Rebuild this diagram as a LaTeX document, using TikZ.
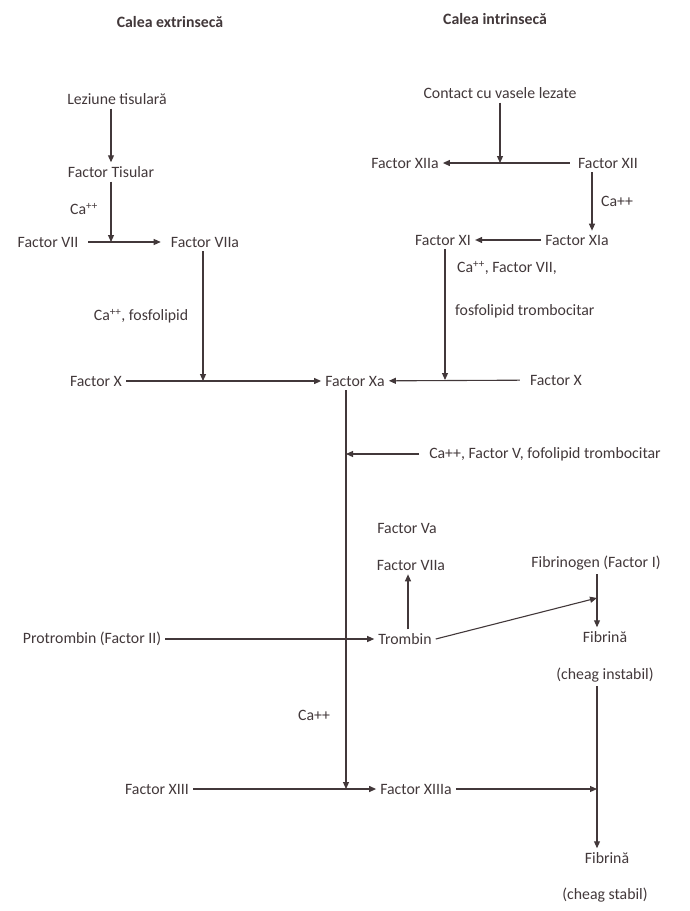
\documentclass[tikz,border=0pt]{standalone}
\usepackage{fontspec}
\setmainfont{Carlito}
\usepackage{tikz}
\usetikzlibrary{arrows.meta,positioning}
\definecolor{ink}{RGB}{66,56,58}
\tikzset{factor/.style={inner sep=4pt,text=ink,font=\fontsize{15.8}{18}\selectfont},
         title/.style={factor,font=\fontsize{15.8}{18}\selectfont\bfseries},
         cofactor/.style={factor,inner sep=2pt},
         flow/.style={->,draw=ink,line width=1.1pt}}
\newcommand{\ca}{Ca\textsuperscript{++}}

\begin{document}
\begin{tikzpicture}[x=1pt,y=-1pt,>={Triangle[length=7pt,width=6pt]}]
    \useasboundingbox (0,0) rectangle (690,911);

    \node[title] (ext) at (170,22) {Calea extrinsecă};
    \node[title] (int) at (495,19) {Calea intrinsecă};

    % calea extrinseca
    \node[factor] (lez) at (117,99) {Leziune tisulară};
    \node[factor] (ft)  at (111,172) {Factor Tisular};
    \node[factor] (f7)  at (48,242) {Factor VII};
    \node[factor] (f7a) at (205,242) {Factor VIIa};
    \node[factor] (fxl) at (96,381) {Factor X};
    \node[cofactor] at (84,209) {\ca};
    \node[cofactor] at (141,316) {\ca, fosfolipid};

    \draw[flow] (lez.south -| ft) -- (ft.north);
    \draw[flow] (ft) -- (ft |- f7);
    \draw[flow,shorten <=6pt,shorten >=6pt] (f7) -- (f7a);
    \draw[flow] ([xshift=-2]f7a.south) -- ([xshift=-2]f7a.south |- fxl);

    % calea intrinseca
    \node[factor] (cont) at (500,93) {Contact cu vasele lezate};
    \node[factor] (f12a) at (405,163) {Factor XIIa};
    \node[factor] (f12)  at (608,163) {Factor XII};
    \node[factor] (f11)  at (443,240) {Factor XI};
    \node[factor] (f11a) at (577,240) {Factor XIa};
    \node[factor] (fxr)  at (556,380) {Factor X};
    \node[cofactor] at (617,201) {Ca++};
    \node[cofactor,anchor=west] at (455,268) {\ca, Factor VII,};
    \node[cofactor,anchor=west] at (453,311) {fosfolipid trombocitar};

    \draw[flow] (cont) -- (cont |- f12);
    \draw[flow,shorten <=4pt] (f12) -- (f12a);
    \draw[flow] ([xshift=-16]f12.south) -- ([xshift=-16]f12.south |- f11a.north);
    \draw[flow] (f11a) -- (f11);
    \draw[flow] ([xshift=2]f11.south) -- ([xshift=2]f11.south |- fxr);

    % calea comuna
    \node[factor] (fxa) at (355,381) {Factor Xa};
    \coordinate (trunk) at (346,789);
    \node[factor] (cav) at (545,454) {Ca++, Factor V, fofolipid trombocitar};
    \node[factor] (f5a) at (407,528) {Factor Va};
    \node[factor] (f7b) at (411,565) {Factor VIIa};
    \node[factor] (pro) at (92,639) {Protrombin (Factor II)};
    \node[factor] (trb) at (405,639) {Trombin};
    \node[factor] (fbg) at (596,563) {Fibrinogen (Factor I)};
    \node[factor] (fib1) at (605,637) {Fibrină};
    \node[factor] (ci)  at (605,675) {(cheag instabil)};
    \coordinate (tjoin) at (597,598);
    \node[cofactor] at (314,715) {Ca++};
    \node[factor] (f13)  at (157,789) {Factor XIII};
    \node[factor] (f13a) at (416,789) {Factor XIIIa};
    \node[factor] (fib2) at (607,858) {Fibrină};
    \node[factor] (cs)   at (605,895) {(cheag stabil)};

    \draw[flow] (fxl) -- (fxa);
    \draw[flow,shorten <=6pt] (fxr) -- (fxa);
    \draw[flow] (fxa.south -| trunk) -- (trunk);
    \draw[flow,shorten <=6pt] (cav.west) -- (cav.west -| trunk);
    \draw[flow] (pro) -- (trb);
    \draw[flow] (trb.north -| 408,0) -- (f7b.south -| 408,0);
    \draw[flow] (trb.east) -- (tjoin);
    \draw[flow] (fbg.south -| tjoin) -- (tjoin |- fib1.north);
    \draw[flow] (ci.south -| tjoin) -- (tjoin |- fib2.north);
    \draw[flow] (f13) -- (f13a);
    \draw[flow] (f13a) -- (f13a -| tjoin);
\end{tikzpicture}
\end{document}
